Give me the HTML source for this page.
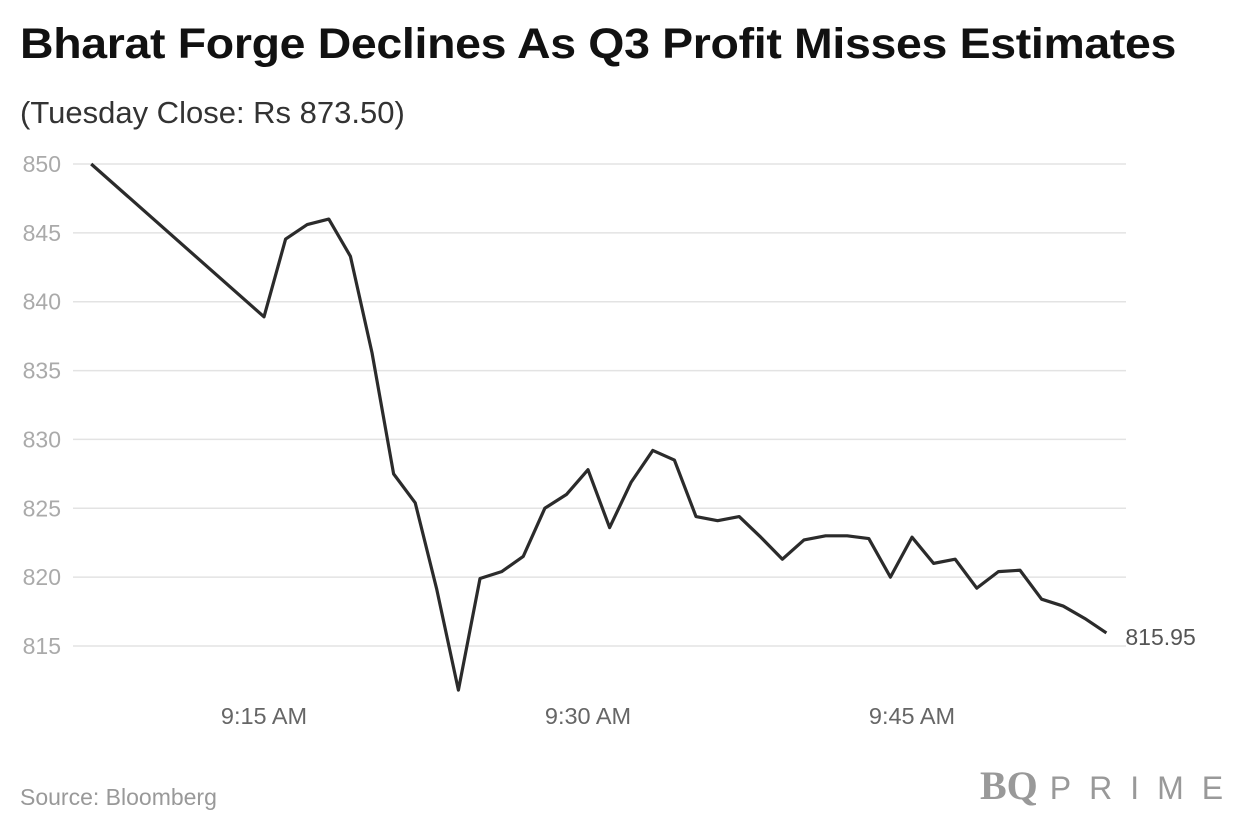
<!DOCTYPE html>
<html><head><meta charset="utf-8"><style>
body{margin:0;width:1240px;height:840px;background:#fff;font-family:"Liberation Sans",sans-serif;overflow:hidden;position:relative}
h1{position:absolute;left:20px;top:20px;margin:0;font-size:43px;font-weight:bold;color:#111;letter-spacing:-0.3px;transform:scaleX(1.08);transform-origin:left top;white-space:nowrap}
.sub{position:absolute;left:20px;top:95px;font-size:31px;color:#333}
.src{position:absolute;left:20px;top:784px;font-size:23px;color:#999}
.logo{position:absolute;left:980px;top:762px;font-family:"Liberation Serif",serif;font-size:40px;color:#999;font-weight:bold}
.logo span{font-family:"Liberation Sans",sans-serif;font-size:32px;font-weight:normal;letter-spacing:18px;margin-left:12px}
svg{position:absolute;left:0;top:0}
</style></head><body>
<h1>Bharat Forge Declines As Q3 Profit Misses Estimates</h1>
<div class="sub">(Tuesday Close: Rs 873.50)</div>
<svg id="chart" width="1240" height="840"></svg>
<div class="src">Source: Bloomberg</div>
<div class="logo">BQ<span>PRIME</span></div>
<script>
const minutes=[7,15,16,17,18,19,20,21,22,23,24,25,26,27,28,29,30,31,32,33,34,35,36,37,38,39,40,41,42,43,44,45,46,47,48,49,50,51,52,53,54];
const prices=[850,838.9,844.55,845.6,846.0,843.3,836.3,827.5,825.4,819.1,811.8,819.9,820.4,821.5,825.0,826.0,827.8,823.6,826.9,829.2,828.5,824.4,824.1,824.4,822.9,821.3,822.7,823.0,823.0,822.8,820.0,822.9,821.0,821.3,819.2,820.4,820.5,818.4,817.9,817.0,815.95];
const yTicks=[815,820,825,830,835,840,845,850];
const xTicks=[15,30,45];
const xTickLabels=["9:15 AM","9:30 AM","9:45 AM"];
const lastLabel="815.95";
const NS="http://www.w3.org/2000/svg";
const svg=document.getElementById('chart');
const x=m=>264+(m-15)*21.6;
const y=v=>164+(850-v)*(482/35);
function mk(t,a){const e=document.createElementNS(NS,t);for(const k in a)e.setAttribute(k,a[k]);svg.appendChild(e);return e;}
yTicks.forEach(v=>{
  const l=mk('line',{x1:73,x2:1126,y1:y(v),y2:y(v),stroke:'#e3e3e3','stroke-width':1.5});
  
  
  const t=mk('text',{x:61,y:y(v)+8,fill:'#aaa','font-size':23,'text-anchor':'end','font-family':'Liberation Sans'});
  t.textContent=v;
  
  
});
xTicks.forEach((m,i)=>{
  const t=mk('text',{x:x(m),y:724,fill:'#666','font-size':23.5,'text-anchor':'middle','font-family':'Liberation Sans'});
  t.textContent=xTickLabels[i];
  
  
});
const p=mk('path',{d:minutes.map((m,i)=>(i?'L':'M')+x(m)+' '+y(prices[i])).join(' '),fill:'none',stroke:'#2b2b2b','stroke-width':3.2,'stroke-linejoin':'round'});


const lt=mk('text',{x:x(minutes[minutes.length-1])+19,y:y(prices[prices.length-1])+12,fill:'#555','font-size':23,'font-family':'Liberation Sans'});
lt.textContent=lastLabel;


</script>
</body></html>
